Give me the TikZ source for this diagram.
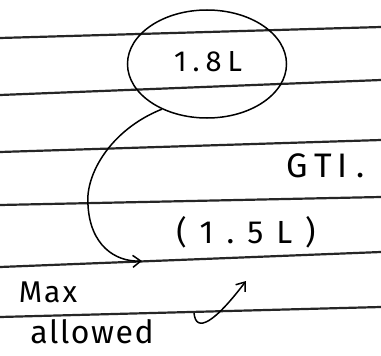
\documentclass[tikz,border=0pt]{standalone}
\usepackage{fontspec}
\setmainfont{Fira Sans}
\usetikzlibrary{shapes.geometric,arrows.meta}
\begin{document}
\begin{tikzpicture}[x=1pt,y=-1pt,
  rule/.style={line width=2.2pt,black!85},
  ink/.style={line width=1.5pt,black},
  hand/.style={font=\fontsize{#1}{#1}\selectfont,inner sep=1pt},
  arr/.style={ink,-{Straight Barb[length=8pt,width=12pt]}}]
\useasboundingbox (0,0) rectangle (381,356);
\fill[white] (0,0) rectangle (381,356);
% ruled lines
\draw[rule] (0,38) -- (381,27);
\draw[rule] (0,95) -- (381,80);
\draw[rule] (0,152) -- (381,140);
\draw[rule] (0,205) -- (381,197);
\draw[rule] (0,267) -- (381,252);
\draw[rule] (0,317) -- (381,307);
% texts
\node[hand=29] (n18) at (208,62) {1\kern6pt.\kern6pt8\kern6pt L};
\node[ellipse,draw,ink,minimum width=159pt,minimum height=108pt] (ell) at (207,64) {};
\node[hand=34] (gti) at (326,166) {G\kern6pt T\kern6pt I .};
\node[hand=32] (l15) at (246,232) {(\kern13pt 1\kern13pt.\kern13pt 5\kern13pt L\kern13pt)};
\node[hand=30] (max) at (48,292) {M\kern2pt a\kern2pt x};
\node[hand=32] (allowed) at (92,332) {a\kern1.5pt l\kern1.5pt l\kern1.5pt o\kern1.5pt w\kern1.5pt e\kern1.5pt d};
% arrows
\coordinate (tipA) at (142,261);
\coordinate (tailB) at (194,313);
\coordinate (tipB) at (246,281);
\draw[arr] (ell.225) .. controls (110,130) and (85,175) .. (88,205)
  .. controls (90,245) and (115,262) .. (tipA);
\draw[arr] (tailB) .. controls (196,334) and (215,322) .. (tipB);
\end{tikzpicture}
\end{document}
